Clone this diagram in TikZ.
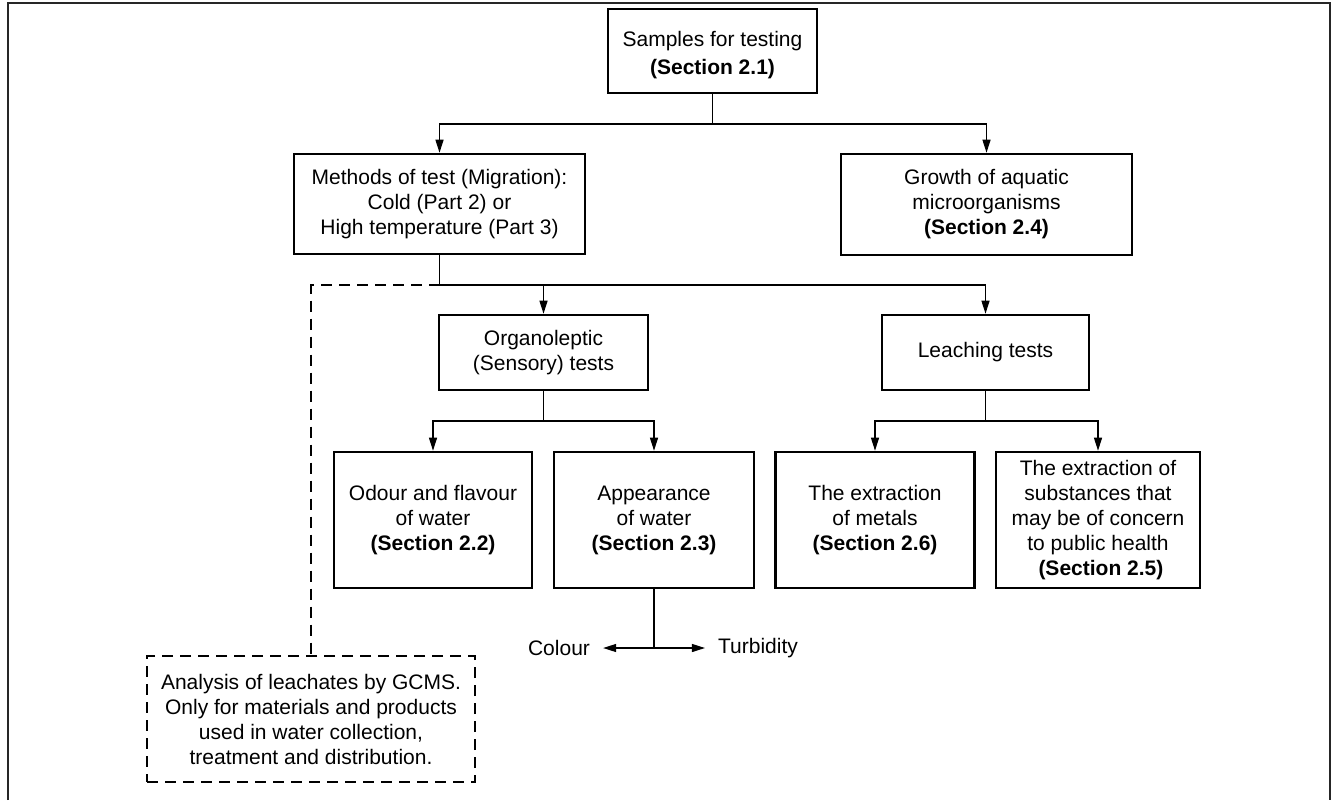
\documentclass[tikz,border=0pt]{standalone}
\usepackage{fontspec}
\setmainfont{Liberation Sans}
\usepackage{tikz}
\usetikzlibrary{arrows.meta}

\begin{document}
\begin{tikzpicture}[x=1pt,y=-1pt,
	box/.style={draw,line width=2.6pt,align=center,inner sep=0pt,font=\fontsize{21}{25}\selectfont},
	dashbox/.style={draw,line width=1.2pt,dash pattern=on 11pt off 7pt,align=center,inner sep=0pt,font=\fontsize{21}{25}\selectfont},
	arr/.style={line width=1.2pt,-{Triangle[length=13pt,width=8pt]}},
	link/.style={line width=1.2pt},
	lbl/.style={inner ysep=2pt,font=\fontsize{21}{25}\selectfont}]
	\useasboundingbox (0,0) rectangle (1332,800);
	%Frame round the figure
	\draw[line width=1.6pt,black!85] (8,800) -- (8,3) -- (1330,3) -- (1330,800);

	%Top box
	\node[box,minimum width=209pt,minimum height=84pt] (samples) at (712.5,51)
	{\rule{0pt}{24pt}Samples for testing\\[3pt]\textbf{(Section 2.1)}};
	%Second row
	\node[box,minimum width=291pt,minimum height=100pt] (methods) at (439.5,204)
	{Methods of test (Migration):\\Cold (Part 2) or\\High temperature (Part 3)};
	\node[box,minimum width=291pt,minimum height=101pt] (growth) at (986.5,204.5)
	{Growth of aquatic\\microorganisms\\\textbf{(Section 2.4)}};
	%Third row
	\node[box,minimum width=209pt,minimum height=75pt] (organo) at (543.5,352.5)
	{Organoleptic\\(Sensory) tests};
	\node[box,minimum width=207pt,minimum height=75pt] (leaching) at (985.5,352.5)
	{Leaching tests};
	%Fourth row
	\node[box,minimum width=198pt,minimum height=136pt] (odour) at (433,520)
	{Odour and flavour\\of water\\\textbf{(Section 2.2)}};
	\node[box,minimum width=200pt,minimum height=136pt] (appear) at (654,520)
	{Appearance\\of water\\\textbf{(Section 2.3)}};
	\node[box,minimum width=199pt,minimum height=136pt] (metals) at (875,520)
	{The extraction\\of metals\\\textbf{(Section 2.6)}};
	\node[box,minimum width=204pt,minimum height=136pt] (subst) at (1098,520)
	{The extraction of\\substances that\\may be of concern\\to public health\\\ \textbf{(Section 2.5)}};
	%GCMS box
	\node[dashbox,minimum width=328pt,minimum height=126pt] (gcms) at (311,719)
	{Analysis of leachates by GCMS.\\Only for materials and products\\used in water collection,\\treatment and distribution.};
	%Colour and turbidity
	\node[lbl,inner xsep=13pt] (colour) at (559,648) {Colour};
	\node[lbl,inner xsep=13pt] (turbid) at (758,648) {Turbidity};

	%Branch points
	\coordinate (s1) at (712.5,124);
	\coordinate (m1) at (439.5,285);
	\coordinate (o1) at (543.5,421);
	\coordinate (l1) at (985.5,421);
	\coordinate (a1) at (654,648);

	%Connections
	\draw[link] (samples.south) -- (s1);
	\draw[arr] (s1) -| (methods.north);
	\draw[arr] (s1) -| (growth.north);
	\draw[link] (methods.south) -- (m1);
	\draw[arr] (m1) -| (organo.north);
	\draw[arr] (m1) -| (leaching.north);
	\draw[link,dash pattern=on 11pt off 7pt] (m1) -| (gcms.north);
	\draw[link] (organo.south) -- (o1);
	\draw[arr] (o1) -| (odour.north);
	\draw[arr] (o1) -| (appear.north);
	\draw[link] (leaching.south) -- (l1);
	\draw[arr] (l1) -| (metals.north);
	\draw[arr] (l1) -| (subst.north);
	\draw[link] (appear.south) -- (a1);
	\draw[arr] (a1) -- (colour.east);
	\draw[arr] (a1) -- (turbid.west);
\end{tikzpicture}
\end{document}
